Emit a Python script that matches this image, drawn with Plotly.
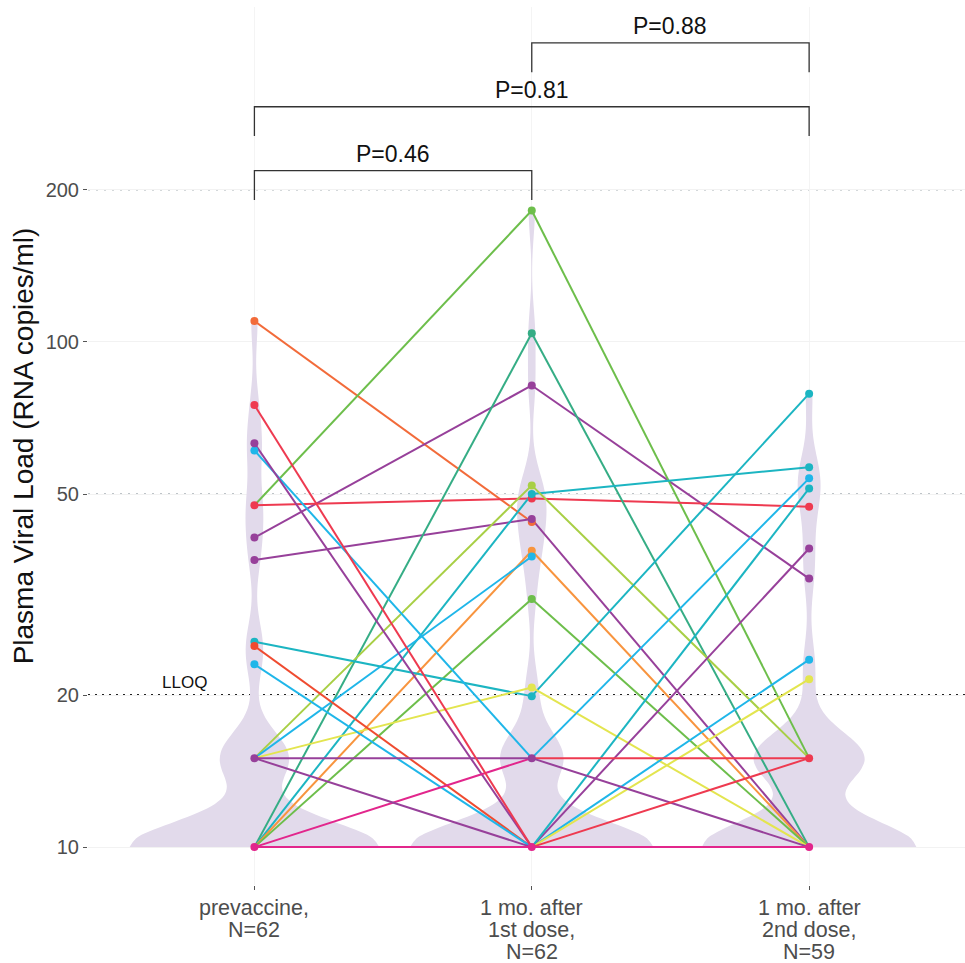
import numpy as np
import plotly.graph_objects as go

# ---------------- data ----------------
categories = ["prevaccine", "1st dose", "2nd dose"]
tick_labels = ["prevaccine,<br>N=62",
               "1 mo. after<br>1st dose,<br>N=62",
               "1 mo. after<br>2nd dose,<br>N=59"]
y_ticks = [10, 20, 50, 100, 200]
lloq = 20
ref_levels = [50, 200]

comparisons = [(0, 1), (0, 2), (1, 2)]
p_labels = ["P=0.46", "P=0.81", "P=0.88"]

ORANGE = "#F26B3A"; RED = "#EE3A50"; PURPLE = "#97409A"; CYAN = "#1FB6E9"
TEAL = "#1CB5C2"; GREEN = "#6DBE4B"; TEALGREEN = "#35AD85"; LIGHTGREEN = "#A8CF45"
YELLOW = "#E3E54F"; LORANGE = "#F8943E"; MAGENTA = "#E2268C"; REDORANGE = "#EF4B30"

# per-participant values (RNA copies/ml); None = missing
prevaccine = [15, 15, 15, 15, 15, 15,
              10, 10, 10, 10, 10, 10, 10,
              10, 10, 10, 10, 10, 10, 10, 10, 10, 10, 10, 10, 10, 10, 10, 10,
              10, 10, 10, 10, 10, 10, 10,
              10,
              110, 37, 41, 47.5, 47.5, 10, 10, 15, 10, 15, 10, 25.5, 15, 61,
              25, 23, 63, 10, 10, 10, 10, 15, 15, 75, 10]
dose1 = [15, 15, 15, 15, 15, 15,
         10, 10, 10, 10, 10, 10, 10,
         10, 10, 10, 10, 10, 10, 10, 10, 10, 10, 10, 10, 10, 10, 10, 10,
         10, 10, 10, 10, 10, 10, 10,
         10,
         44, 44.6, 82, 182, 49, 104, 50, 52, 38.6, 37.6, 31, 19.9, 20.7, 15,
         10, 10, 10, 10, 10, 15, 15, 15, 10, 10, 10]
dose2 = [15, 15, 15, 15, 15, 15,
         15, 15, 15, 15, 15, 15, 15,
         10, 10, 10, 10, 10, 10, 10, 10, 10, 10, 10, 10, 10, 10, 10, 10,
         10, 10, 10, 10, 10, 10, 10,
         None,
         None, 10, 34, 15, 47.2, 10, 56.5, 15, 10, None, 10, 79, 10, 53.7,
         10, 23.5, 39, 21.5, 51.3, 15, 10, 10, 10, 15, 10]
subject_colors = [PURPLE, TEAL, GREEN, CYAN, ORANGE, YELLOW,
                  TEAL, GREEN, PURPLE, CYAN, LIGHTGREEN, ORANGE, MAGENTA,
                  TEAL, GREEN, PURPLE, CYAN, LIGHTGREEN, ORANGE, YELLOW, RED, TEALGREEN,
                  LORANGE, REDORANGE, PURPLE, CYAN, TEAL, GREEN, MAGENTA, RED, PURPLE,
                  YELLOW, LIGHTGREEN, TEALGREEN, CYAN, MAGENTA,
                  PURPLE,
                  ORANGE, PURPLE, PURPLE, GREEN, RED, TEALGREEN, TEAL, LIGHTGREEN, LORANGE,
                  CYAN, GREEN, TEAL, YELLOW, CYAN,
                  REDORANGE, CYAN, PURPLE, YELLOW, TEAL, RED, MAGENTA, PURPLE, PURPLE, RED, MAGENTA]

series = [prevaccine, dose1, dose2]


def lg(v):
    return None if v is None else float(np.log10(v))


def nrd0(x):
    x = np.asarray(x, dtype=float)
    hi = np.std(x, ddof=1)
    q75, q25 = np.percentile(x, [75, 25])
    lo = min(hi, (q75 - q25) / 1.34)
    if lo == 0:
        lo = hi or abs(x[0]) or 1.0
    return 0.9 * lo * len(x) ** (-0.2)


def kde_peak(x, bw):
    x = np.asarray(x, dtype=float)
    grid = np.linspace(x.min(), x.max(), 400)
    dens = np.exp(-0.5 * ((grid[:, None] - x[None, :]) / bw) ** 2).sum(1) / (len(x) * bw)
    return dens.max()


fig = go.Figure()

VCOL = "rgb(226,218,235)"
log_groups = [[lg(v) for v in s if v is not None] for s in series]
bws = [nrd0(g) for g in log_groups]
peaks = [kde_peak(g, b) for g, b in zip(log_groups, bws)]
for i, cat in enumerate(categories):
    vals = log_groups[i]
    fig.add_trace(go.Violin(
        x=[cat] * len(vals), y=vals, name=cat,
        scalegroup=cat, scalemode="width", width=0.9 * peaks[i] / max(peaks),
        spanmode="hard", bandwidth=bws[i],
        fillcolor=VCOL, line=dict(width=0, color=VCOL),
        points=False, box_visible=False, meanline_visible=False,
        hoverinfo="skip", showlegend=False))

# participant trajectories: identical segments drawn once, in the colour that ends on top
seg_color = {}
for s in range(len(prevaccine)):
    for i in range(2):
        a, b = series[i][s], series[i + 1][s]
        if a is None or b is None:
            continue
        key = (i, a, b)
        seg_color.pop(key, None)
        seg_color[key] = subject_colors[s]
for (i, a, b), col in seg_color.items():
    fig.add_trace(go.Scatter(
        x=[categories[i], categories[i + 1]], y=[lg(a), lg(b)], mode="lines",
        line=dict(color=col, width=2), hoverinfo="skip", showlegend=False))

pt_color = {}
for s in range(len(prevaccine)):
    for i in range(3):
        v = series[i][s]
        if v is not None:
            pt_color.pop((i, v), None)
            pt_color[(i, v)] = subject_colors[s]
fig.add_trace(go.Scatter(
    x=[categories[i] for (i, v) in pt_color], y=[lg(v) for (i, v) in pt_color],
    mode="markers", marker=dict(color=list(pt_color.values()), size=8, line=dict(width=0)),
    hoverinfo="skip", showlegend=False))

shapes = []
for lev in ref_levels:
    shapes.append(dict(type="line", xref="paper", x0=0, x1=1, yref="y",
                       y0=np.log10(lev), y1=np.log10(lev),
                       line=dict(color="#A9B1B6", width=1.5, dash="2px,6px"), layer="below"))
shapes.append(dict(type="line", xref="paper", x0=0, x1=1, yref="y",
                   y0=np.log10(lloq), y1=np.log10(lloq),
                   line=dict(color="#222222", width=2, dash="2px,5px"), layer="below"))

annotations = [dict(x=-0.252, y=np.log10(lloq), xref="x", yref="y", text="LLOQ",
                    showarrow=False, yanchor="bottom", yshift=1,
                    font=dict(size=17, color="#111111"))]

base = 2.339
step = 0.1265
leg = 0.058
for k, ((a, b), lab) in enumerate(zip(comparisons, p_labels)):
    yb = base + k * step
    shapes.append(dict(type="path", xref="x", yref="y",
                       path=f"M {a},{yb - leg} L {a},{yb} L {b},{yb} L {b},{yb - leg}",
                       line=dict(color="#333333", width=1.3)))
    annotations.append(dict(x=(a + b) / 2, y=yb, xref="x", yref="y", text=lab,
                            showarrow=False, yanchor="bottom", yshift=2,
                            font=dict(size=23, color="#111111")))

# category labels, tight line spacing
for cat, lab in zip(categories, tick_labels):
    for j, line in enumerate(lab.split("<br>")):
        annotations.append(dict(x=cat, y=0, xref="x", yref="paper", text=line,
                                showarrow=False, yanchor="top", yshift=-9 - 22 * j,
                                font=dict(size=21.5, color="#4D4D4D")))

fig.update_layout(
    width=965, height=963,
    margin=dict(l=88, r=0, t=7, b=78),
    paper_bgcolor="white", plot_bgcolor="white",
    violinmode="overlay",
    font=dict(family="Liberation Sans, Arial, sans-serif"),
    shapes=shapes, annotations=annotations,
    xaxis=dict(type="category", categoryorder="array", categoryarray=categories,
               range=[-0.6, 2.562], tickvals=categories, showticklabels=False,
               ticks="outside", ticklen=4, tickcolor="#555555",
               showgrid=True, gridcolor="#F4F4F4", zeroline=False, showline=False),
    yaxis=dict(range=[0.925, 2.663], tickvals=[float(np.log10(t)) for t in y_ticks],
               ticktext=[str(t) for t in y_ticks],
               ticks="outside", ticklen=4, tickcolor="#555555",
               tickfont=dict(size=20, color="#4D4D4D"),
               showgrid=True, gridcolor="#F2F2F2", zeroline=False, showline=False,
               title=dict(text="Plasma Viral Load (RNA copies/ml)",
                          font=dict(size=28, color="#111111"), standoff=3)),
)

fig.write_html("out.html", config={"displayModeBar": False},
               post_script="document.body.style.margin='0px';")
